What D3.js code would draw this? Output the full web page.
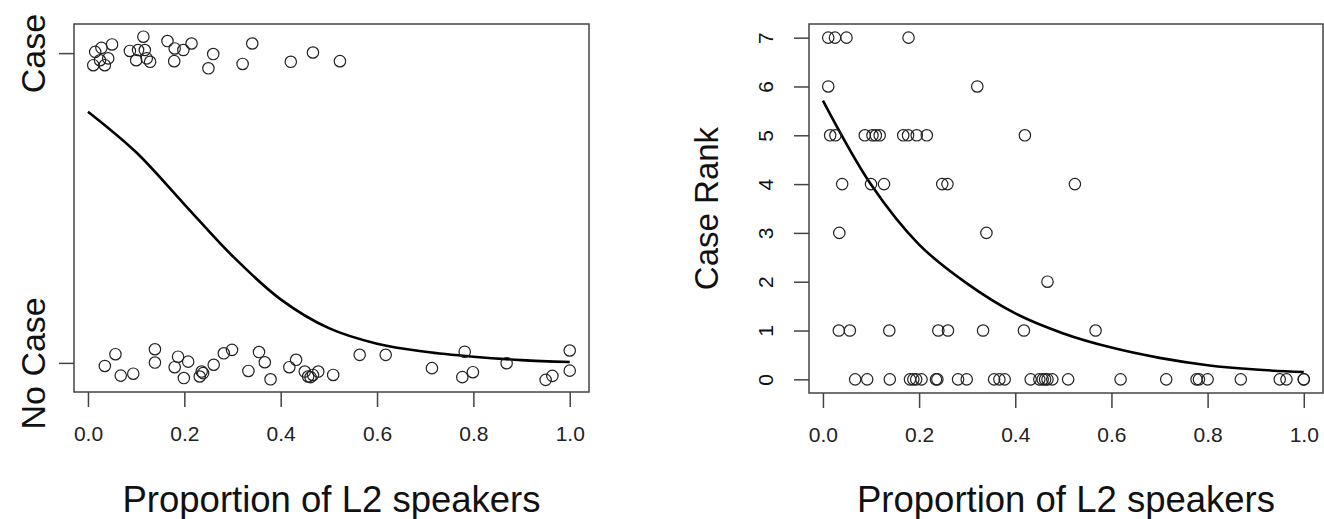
<!DOCTYPE html>
<html>
<head>
<meta charset="utf-8">
<script src="https://cdn.jsdelivr.net/npm/d3@7"></script>
<style>
  body { margin: 0; background: #fff; }
  svg { display: block; font-family: "Liberation Sans", Arial, Helvetica, sans-serif; }
</style>
</head>
<body>
<div id="chart"></div>
<script>
// Shared x ticks
const xTicks = [0, 0.2, 0.4, 0.6, 0.8, 1.0];
const xTitle = "Proportion of L2 speakers";

// Left panel: case / no case (jittered)
const caseX = [0.050, 0.015, 0.028, 0.042, 0.011, 0.035, 0.025, 0.087, 0.115, 0.104, 0.118, 0.100, 0.122,
  0.129, 0.165, 0.180, 0.215, 0.198, 0.179, 0.260, 0.250, 0.341, 0.321, 0.421, 0.467, 0.523];
const caseY = [1.028, 1.004, 1.017, 0.983, 0.961, 0.961, 0.977, 1.007, 1.053, 1.010, 1.010, 0.977, 0.983,
  0.972, 1.039, 1.015, 1.031, 1.010, 0.974, 0.997, 0.951, 1.031, 0.965, 0.972, 1.002, 0.974];
const noCaseX = [0.035, 0.057, 0.068, 0.094, 0.139, 0.139, 0.180, 0.187, 0.199, 0.208, 0.232, 0.236, 0.239,
  0.261, 0.282, 0.299, 0.333, 0.355, 0.367, 0.379, 0.418, 0.432, 0.450, 0.457, 0.462, 0.467, 0.478, 0.509,
  0.564, 0.618, 0.714, 0.777, 0.782, 0.799, 0.869, 0.950, 0.964, 1.000, 1.000];
const noCaseY = [-0.010, 0.028, -0.041, -0.035, 0.044, 0.001, -0.014, 0.020, -0.049, 0.004, -0.044, -0.028, -0.033,
  -0.006, 0.031, 0.042, -0.026, 0.035, 0.002, -0.053, -0.014, 0.010, -0.028, -0.044, -0.046, -0.039, -0.028, -0.039,
  0.026, 0.026, -0.017, -0.046, 0.036, -0.030, -0.001, -0.055, -0.042, 0.040, -0.025];
const caseTicks = [0, 1];
const caseTickLabels = ["No Case", "Case"];

// Fitted logistic curve, read at 0.1 steps
const curveX = [0, 0.1, 0.2, 0.3, 0.4, 0.5, 0.6, 0.7, 0.8, 0.9, 1.0];
const logitCurveY = [0.811, 0.680, 0.512, 0.345, 0.205, 0.112, 0.062, 0.036, 0.020, 0.009, 0.003];

// Right panel: case rank per point
const rankX = [0.011, 0.025, 0.049, 0.178,
  0.011, 0.321,
  0.015, 0.026, 0.087, 0.103, 0.110, 0.118, 0.167, 0.177, 0.195, 0.216, 0.420,
  0.040, 0.100, 0.127, 0.248, 0.259, 0.524,
  0.034, 0.340,
  0.467,
  0.033, 0.056, 0.138, 0.240, 0.260, 0.333, 0.418, 0.567,
  0.067, 0.092, 0.139, 0.181, 0.188, 0.194, 0.205, 0.235, 0.238, 0.281, 0.299, 0.356, 0.367, 0.378, 0.432,
  0.450, 0.457, 0.462, 0.467, 0.477, 0.510, 0.619, 0.714, 0.777, 0.782, 0.800, 0.869, 0.950, 0.964, 1.000, 1.000];
const rankY = [7, 7, 7, 7,
  6, 6,
  5, 5, 5, 5, 5, 5, 5, 5, 5, 5, 5,
  4, 4, 4, 4, 4, 4,
  3, 3,
  2,
  1, 1, 1, 1, 1, 1, 1, 1,
  0, 0, 0, 0, 0, 0, 0, 0, 0, 0, 0, 0, 0, 0, 0,
  0, 0, 0, 0, 0, 0, 0, 0, 0, 0, 0, 0, 0, 0, 0, 0];
const rankTicks = [0, 1, 2, 3, 4, 5, 6, 7];

// Fitted count curve, read at 0.1 steps
const rankCurveY = [5.71, 3.99, 2.76, 1.96, 1.35, 0.94, 0.65, 0.44, 0.29, 0.20, 0.15];

const width = 1324;
const height = 519;

const svg = d3.select("#chart")
  .append("svg")
  .attr("width", width)
  .attr("height", height);

const drawPanel = (opts) => {
  const { box, xDomain, yDomain, points, curve, yTicks, yTickLabels, yTickSize, yTickX, yTitle } = opts;

  const x = d3.scaleLinear().domain(xDomain).range([box.left, box.right]);
  const y = d3.scaleLinear().domain(yDomain).range([box.bottom, box.top]);

  const g = svg.append("g");

  // Frame
  g.append("rect")
    .attr("x", box.left)
    .attr("y", box.top)
    .attr("width", box.right - box.left)
    .attr("height", box.bottom - box.top)
    .attr("fill", "none")
    .attr("stroke", "#444")
    .attr("stroke-width", 1.5);

  // x axis
  const xAxis = g.append("g")
    .attr("transform", `translate(0, ${box.bottom})`)
    .call(d3.axisBottom(x).tickValues(xTicks).tickFormat(d3.format(".1f")).tickSize(15).tickPadding(19));
  xAxis.select(".domain").remove();
  xAxis.selectAll("line").attr("stroke", "#444").attr("stroke-width", 1.5);
  xAxis.selectAll("text")
    .attr("font-size", 21)
    .attr("font-family", "Liberation Sans, Arial, sans-serif")
    .attr("fill", "#222");

  // y axis
  const yAxis = g.append("g")
    .attr("transform", `translate(${box.left}, 0)`)
    .call(d3.axisLeft(y).tickValues(yTicks).tickSize(15).tickFormat((d, i) => yTickLabels[i]));
  yAxis.select(".domain").remove();
  yAxis.selectAll("line").attr("stroke", "#444").attr("stroke-width", 1.5);
  yAxis.selectAll("text")
    .attr("x", null)
    .attr("dy", null)
    .attr("text-anchor", "middle")
    .attr("font-size", yTickSize)
    .attr("font-family", "Liberation Sans, Arial, sans-serif")
    .attr("fill", "#111")
    .attr("transform", `translate(${yTickX - box.left}, 0) rotate(-90)`);

  // Titles
  g.append("text")
    .attr("x", (box.left + box.right) / 2)
    .attr("y", 512)
    .attr("text-anchor", "middle")
    .attr("font-size", 36.5)
    .attr("fill", "#111")
    .text(xTitle);

  if (yTitle) {
    g.append("text")
      .attr("transform", `translate(${yTitle.x}, ${(box.top + box.bottom) / 2}) rotate(-90)`)
      .attr("text-anchor", "middle")
      .attr("font-size", 33)
      .attr("fill", "#111")
      .text(yTitle.text);
  }

  // Fitted curve
  const line = d3.line()
    .x((d) => x(d[0]))
    .y((d) => y(d[1]))
    .curve(d3.curveCatmullRom);

  g.append("path")
    .datum(curve)
    .attr("fill", "none")
    .attr("stroke", "#000")
    .attr("stroke-width", 2.6)
    .attr("d", line);

  // Points
  g.selectAll("circle")
    .data(points)
    .enter()
    .append("circle")
    .attr("cx", (d) => x(d[0]))
    .attr("cy", (d) => y(d[1]))
    .attr("r", 5.7)
    .attr("fill", "none")
    .attr("stroke", "#222")
    .attr("stroke-width", 1.2);
};

// Left panel
const leftPoints = caseX.map((d, i) => [d, caseY[i]])
  .concat(noCaseX.map((d, i) => [d, noCaseY[i]]));

drawPanel({
  box: { left: 74, right: 589, top: 24, bottom: 392 },
  xDomain: [-0.029, 1.04],
  yDomain: [-0.094, 1.094],
  points: leftPoints,
  curve: curveX.map((d, i) => [d, logitCurveY[i]]),
  yTicks: caseTicks,
  yTickLabels: caseTickLabels,
  yTickSize: 34,
  yTickX: 45
});

// Right panel
drawPanel({
  box: { left: 809, right: 1323, top: 24, bottom: 393 },
  xDomain: [-0.029, 1.04],
  yDomain: [-0.28, 7.28],
  points: rankX.map((d, i) => [d, rankY[i]]),
  curve: curveX.map((d, i) => [d, rankCurveY[i]]),
  yTicks: rankTicks,
  yTickLabels: rankTicks.map(String),
  yTickSize: 21,
  yTickX: 773,
  yTitle: { text: "Case Rank", x: 718 }
});
</script>
</body>
</html>
